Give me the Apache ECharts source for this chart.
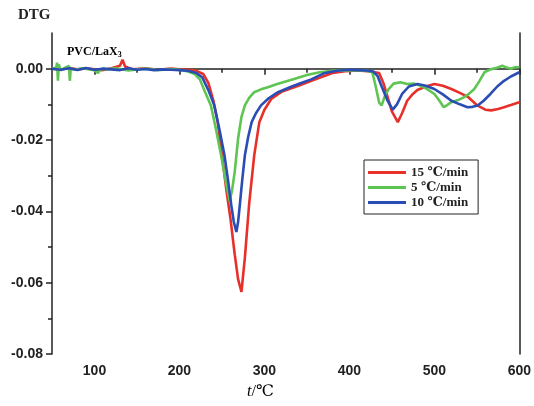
<!DOCTYPE html>
<html><head><meta charset="utf-8">
<script src="https://cdn.jsdelivr.net/npm/echarts@6/dist/echarts.min.js"></script>
<style>html,body{margin:0;padding:0;background:#fff}#c{width:534px;height:406px}</style>
</head><body><div id="c"></div>
<script>
const seriesNames = ['15 \u2103/min', '5 \u2103/min', '10 \u2103/min'];
const xTickLabels = [100, 200, 300, 400, 500, 600];
const xMinorTicks = [150, 250, 350, 450, 550];
const yTickLabels = [-0.08, -0.06, -0.04, -0.02, 0.0];
const yMinorTicks = [-0.07, -0.05, -0.03, -0.01];

const tempRed = [50,60,70,80,90,100,110,120,130,133,136,145,160,175,190,200,210,220,228,234,240,245,250,255,260,265,269,273,277,282,288,294,300,308,320,340,360,380,395,410,425,435,440,445,450,457,462,468,475,480,490,500,510,520,530,540,550,560,567,575,582,590,600];
const dtgRed = [0.0,-0.0003,0.0002,-0.0002,0.0001,-0.0002,-0.0004,0.0001,0.0008,0.0025,0.0006,-0.0002,0.0001,-0.0003,0.0,-0.0002,-0.0003,-0.0006,-0.0015,-0.004,-0.009,-0.015,-0.024,-0.0337,-0.042,-0.052,-0.059,-0.0626,-0.053,-0.038,-0.0243,-0.015,-0.0115,-0.0085,-0.0065,-0.0048,-0.003,-0.0012,-0.0007,-0.0005,-0.0008,-0.0012,-0.004,-0.008,-0.012,-0.015,-0.0125,-0.009,-0.007,-0.006,-0.005,-0.0043,-0.0048,-0.0057,-0.0068,-0.008,-0.0102,-0.0115,-0.0117,-0.0113,-0.0108,-0.0102,-0.0094];

const tempGreen = [50,55,56,57,58,60,65,70,71,72,78,85,100,104,108,115,125,140,150,160,175,190,200,210,218,224,230,237,243,249,254,259,262,265,269,273,277,282,288,296,304,315,335,350,365,380,395,410,420,427,431,435,438,442,446,452,460,468,476,484,492,500,506,511,515,520,528,535,541,547,553,559,566,573,580,585,590,595,600];
const dtgGreen = [0.0,0.0003,0.0017,-0.0034,0.0012,-0.0005,0.0002,0.0008,-0.0034,0.0,-0.0003,0.0001,-0.0004,-0.0012,0.0,-0.0002,0.0001,-0.0005,-0.0002,0.0,-0.0004,-0.0001,-0.0003,-0.0008,-0.0015,-0.003,-0.0065,-0.0103,-0.017,-0.0243,-0.031,-0.0372,-0.034,-0.029,-0.0196,-0.0135,-0.0103,-0.0082,-0.0066,-0.0058,-0.0052,-0.0043,-0.0029,-0.0018,-0.001,-0.0006,-0.0004,-0.0005,-0.0006,-0.001,-0.005,-0.0095,-0.0103,-0.0075,-0.0058,-0.0042,-0.0038,-0.0043,-0.0042,-0.0048,-0.0058,-0.0071,-0.009,-0.0108,-0.0102,-0.0094,-0.0088,-0.008,-0.007,-0.0057,-0.0035,-0.001,-0.0002,0.0002,0.0008,0.0003,0.0,0.0004,0.0004];

const tempBlue = [50,60,70,80,90,100,110,120,130,140,150,160,170,180,190,200,210,220,227,234,241,247,253,257,261,264,267,269,271,274,277,281,285,290,296,305,316,330,340,355,370,385,398,410,420,428,433,438,445,451,456,462,470,480,490,500,510,520,530,539,545,551,558,566,574,582,590,600];
const dtgBlue = [0.0,-0.0003,0.0001,-0.0004,0.0002,-0.0003,0.0,-0.0002,-0.0004,0.0001,-0.0003,-0.0001,-0.0004,-0.0002,-0.0003,-0.0004,-0.0006,-0.0012,-0.0025,-0.006,-0.0103,-0.017,-0.0243,-0.031,-0.0383,-0.043,-0.0458,-0.043,-0.0383,-0.031,-0.0243,-0.019,-0.015,-0.0125,-0.0103,-0.0083,-0.0066,-0.0052,-0.0043,-0.003,-0.0013,-0.0006,-0.0003,-0.0004,-0.0005,-0.0008,-0.002,-0.005,-0.009,-0.0115,-0.01,-0.0071,-0.005,-0.0043,-0.0048,-0.0057,-0.0072,-0.009,-0.01,-0.0108,-0.0107,-0.0103,-0.009,-0.0071,-0.005,-0.0034,-0.0022,-0.001];

const colors = ['#e8302a', '#5ec452', '#2a4db5'];

function pairs(t, v) { return t.map((x, i) => [x, v[i]]); }

const chart = echarts.init(document.getElementById('c'), null, {renderer: 'canvas'});
const serifFont = "'Liberation Serif','DejaVu Serif',serif";
const sansFont = "'Liberation Sans',Arial,sans-serif";
const axisCol = '#222';

chart.setOption({
  animation: false,
  backgroundColor: '#fff',
  grid: {left: 52, right: 13, top: 33, bottom: 52},
  legend: {
    orient: 'vertical', left: 364, top: 160,
    data: seriesNames,
    icon: 'rect', itemWidth: 38, itemHeight: 3, itemGap: 2,
    borderColor: '#222', borderWidth: 1, padding: [6, 10, 5, 4],
    textStyle: {fontFamily: serifFont, fontWeight: 'bold', fontSize: 13, color: '#222', lineHeight: 12}
  },
  xAxis: [{
    type: 'value', min: 50, max: 600,
    axisLine: {show: true, lineStyle: {color: axisCol, width: 1.5}},
    axisTick: {show: true, length: 6, lineStyle: {color: axisCol, width: 1.5}, customValues: xTickLabels},
    axisLabel: {customValues: xTickLabels, margin: 10, fontFamily: sansFont, fontWeight: 'bold', fontSize: 14, color: '#222'},
    splitLine: {show: false}
  }, {
    type: 'value', min: 50, max: 600, position: 'bottom',
    axisLine: {show: false},
    axisTick: {show: true, length: 4, lineStyle: {color: axisCol, width: 1.5}, customValues: xMinorTicks},
    axisLabel: {show: false},
    splitLine: {show: false}
  }],
  yAxis: [{
    type: 'value', min: -0.08, max: 0.01,
    axisLine: {show: true, lineStyle: {color: axisCol, width: 1.5}},
    axisTick: {show: true, length: 6, lineStyle: {color: axisCol, width: 1.5}, customValues: yTickLabels},
    axisLabel: {customValues: yTickLabels, margin: 9, formatter: v => v.toFixed(2), fontFamily: sansFont, fontWeight: 'bold', fontSize: 14, color: '#222'},
    splitLine: {show: false}
  }, {
    type: 'value', min: -0.08, max: 0.01, position: 'right',
    axisLine: {show: true, lineStyle: {color: axisCol, width: 1.5}},
    axisTick: {show: false}, axisLabel: {show: false}, splitLine: {show: false}
  }, {
    type: 'value', min: -0.08, max: 0.01, position: 'left',
    axisLine: {show: false},
    axisTick: {show: true, length: 4, lineStyle: {color: axisCol, width: 1.5}, customValues: yMinorTicks},
    axisLabel: {show: false}, splitLine: {show: false}
  }],
  series: [
    {name: seriesNames[0], type: 'line', data: pairs(tempRed, dtgRed), showSymbol: false, symbol: 'none', lineStyle: {width: 2.6, color: colors[0]}, itemStyle: {color: colors[0]}},
    {name: seriesNames[1], type: 'line', data: pairs(tempGreen, dtgGreen), showSymbol: false, symbol: 'none', lineStyle: {width: 2.6, color: colors[1]}, itemStyle: {color: colors[1]}},
    {name: seriesNames[2], type: 'line', data: pairs(tempBlue, dtgBlue), showSymbol: false, symbol: 'none', lineStyle: {width: 2.6, color: colors[2]}, itemStyle: {color: colors[2]}}
  ],
  graphic: [
    {type: 'text', left: 18, top: 8, style: {text: 'DTG', font: "bold 15px " + serifFont, fill: '#222'}},
    {type: 'text', left: 67, top: 46, style: {
      text: '{a|PVC/LaX}{s|3}',
      rich: {a: {fontFamily: serifFont, fontWeight: 'bold', fontSize: 12, color: '#222'},
             s: {fontFamily: serifFont, fontWeight: 'bold', fontSize: 8, color: '#222', verticalAlign: 'bottom', padding: [6, 0, 0, 0]}}
    }},
    {type: 'text', left: 247, top: 384, style: {
      text: '{i|t}{n|/\u2103}',
      rich: {i: {fontFamily: serifFont, fontStyle: 'italic', fontSize: 16, color: '#222'},
             n: {fontFamily: serifFont, fontSize: 16, color: '#222'}}
    }}
  ]
});
</script></body></html>
